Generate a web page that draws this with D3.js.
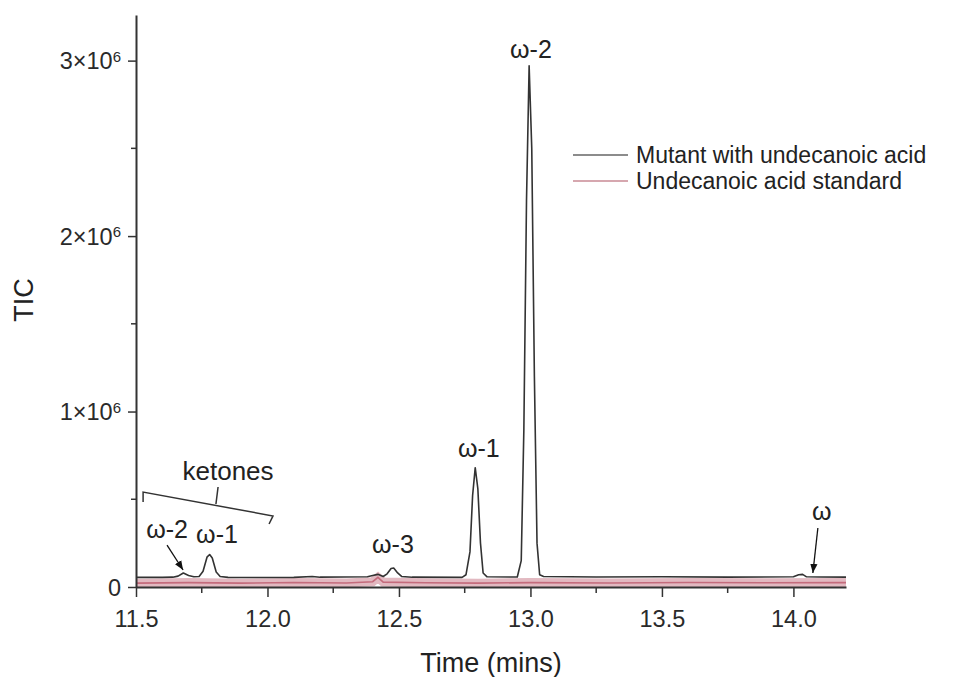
<!DOCTYPE html>
<html>

<head>
    <meta charset="utf-8">
    <style>
        body {
            margin: 0;
            background: #fff;
        }

        svg {
            font-family: "Liberation Sans", Arial, sans-serif;
        }

        .axis .domain {
            stroke: #333;
            stroke-width: 2;
        }

        .axis .tick line {
            stroke: #333;
            stroke-width: 1.5;
        }

        .axis .tick text {
            font-size: 23.5px;
            fill: #2a2a2a;
        }
    </style>
</head>

<body>
    <svg width="955" height="677"></svg>
</body>

<script src="https://d3js.org/d3.v7.min.js"></script>

<script>
    // retention time (mins) and TIC (thousands)
    let mutantTime = [11.50, 11.60, 11.64, 11.66, 11.68, 11.70, 11.72, 11.74, 11.755, 11.77, 11.78, 11.79, 11.805, 11.82, 11.85,
        12.00, 12.10, 12.17, 12.20, 12.38, 12.40, 12.42, 12.44, 12.455, 12.47, 12.48, 12.495, 12.51, 12.55,
        12.74, 12.755, 12.77, 12.78, 12.79, 12.80, 12.81, 12.82, 12.835,
        12.95, 12.965, 12.975, 12.985, 12.995, 13.005, 13.015, 13.025, 13.035, 13.05,
        13.25, 13.50, 13.75, 14.00, 14.02, 14.035, 14.05, 14.10, 14.20];
    let mutantTIC = [55, 55, 56, 62, 80, 66, 58, 60, 90, 170, 185, 165, 85, 60, 55,
        54, 55, 60, 56, 58, 65, 72, 60, 75, 105, 108, 80, 60, 56,
        55, 70, 200, 520, 680, 560, 250, 80, 58,
        57, 150, 900, 2200, 2970, 2500, 1200, 250, 70, 60,
        57, 58, 56, 58, 70, 72, 58, 57, 56];

    let standardTime = [11.50, 11.70, 11.90, 12.10, 12.30, 12.40, 12.42, 12.44, 12.60, 12.80, 13.00, 13.30, 13.60, 13.90, 14.20];
    let standardTIC = [22, 25, 22, 26, 23, 30, 55, 28, 24, 22, 25, 23, 26, 24, 25];

    let xTicks = [11.5, 12.0, 12.5, 13.0, 13.5, 14.0];
    let xMinorTicks = [11.75, 12.25, 12.75, 13.25, 13.75];
    let yTicks = [0, 1000, 2000, 3000];
    let yMinorTicks = [500, 1500, 2500];

    let seriesNames = ["Mutant with undecanoic acid", "Undecanoic acid standard"];

    // peak labels: text, time, TIC (thousands)
    let peakText = ["ω-2", "ω-1", "ω-3", "ω-2", "ω-1", "ω"];
    let peakTime = [13.002, 12.804, 12.477, 11.618, 11.808, 14.108];
    let peakTIC = [3014, 741, 194, 279, 251, 382];

    let mutant = mutantTime.map((t, i) => ({ t: t, v: mutantTIC[i] }));
    let standard = standardTime.map((t, i) => ({ t: t, v: standardTIC[i] }));

    let width = 955;
    let height = 677;
    let margin = { top: 15, right: 109, bottom: 90, left: 136 };

    let svg = d3.select("svg");

    let x = d3.scaleLinear()
        .domain([11.5, 14.2])
        .range([margin.left, width - margin.right]);

    let y = d3.scaleLinear()
        .domain([0, 3260])
        .range([height - margin.bottom, margin.top]);

    let line = d3.line()
        .x(d => x(d.t))
        .y(d => y(d.v));

    // standard trace: pink band with a red core
    svg.append("path")
        .datum(standard)
        .attr("d", line)
        .attr("fill", "none")
        .attr("stroke", "#e2b9c1")
        .attr("stroke-width", 9);

    svg.append("path")
        .datum(standard)
        .attr("d", line)
        .attr("fill", "none")
        .attr("stroke", "#c46b7c")
        .attr("stroke-width", 1.6);

    svg.append("path")
        .datum(mutant)
        .attr("d", line)
        .attr("fill", "none")
        .attr("stroke", "#333")
        .attr("stroke-width", 1.6)
        .attr("stroke-linejoin", "round");

    // axes
    let xAxis = svg.append("g")
        .attr("class", "x axis")
        .attr("transform", `translate(0,${y(0)})`)
        .call(d3.axisBottom(x).tickValues(xTicks).tickFormat(d3.format(".1f")).tickSize(10).tickSizeOuter(0).tickPadding(13));

    xAxis.selectAll(".minor")
        .data(xMinorTicks)
        .join("line")
        .attr("class", "minor")
        .attr("x1", d => x(d)).attr("x2", d => x(d))
        .attr("y1", 0).attr("y2", 6)
        .attr("stroke", "#333").attr("stroke-width", 1.5);

    let yAxis = svg.append("g")
        .attr("class", "y axis")
        .attr("transform", `translate(${margin.left},0)`)
        .call(d3.axisLeft(y).tickValues(yTicks).tickSize(8).tickSizeOuter(0).tickPadding(7).tickFormat(""));

    yAxis.selectAll(".minor")
        .data(yMinorTicks)
        .join("line")
        .attr("class", "minor")
        .attr("x1", -5).attr("x2", 0)
        .attr("y1", d => y(d)).attr("y2", d => y(d))
        .attr("stroke", "#333").attr("stroke-width", 1.5);

    // y tick labels as n×10^6
    yAxis.selectAll(".tick text").each(function (d) {
        let t = d3.select(this).attr("dy", "0.35em");
        if (d === 0) {
            t.text("0");
        } else {
            t.text(`${d / 1000}×10`);
            t.append("tspan").attr("dy", "-0.5em").attr("font-size", "15px").text("6");
        }
    });

    // axis titles
    svg.append("text")
        .attr("x", (x(11.5) + x(14.2)) / 2)
        .attr("y", 672)
        .attr("text-anchor", "middle")
        .attr("font-size", 27)
        .attr("fill", "#222")
        .text("Time (mins)");

    svg.append("text")
        .attr("transform", `translate(33,300) rotate(-90)`)
        .attr("text-anchor", "middle")
        .attr("font-size", 27)
        .attr("fill", "#222")
        .text("TIC");

    // legend
    let legendColors = ["#666", "#c98a95"];
    let legend = svg.append("g").attr("transform", "translate(573,155)");
    seriesNames.forEach((name, i) => {
        legend.append("line")
            .attr("x1", 0).attr("x2", 55)
            .attr("y1", i * 26).attr("y2", i * 26)
            .attr("stroke", legendColors[i]).attr("stroke-width", 1.6);
        legend.append("text")
            .attr("x", 63).attr("y", i * 26 + 8)
            .attr("font-size", 23)
            .attr("fill", "#222")
            .text(name);
    });

    // peak labels
    svg.append("g")
        .selectAll("text")
        .data(peakText)
        .join("text")
        .attr("x", (d, i) => x(peakTime[i]))
        .attr("y", (d, i) => y(peakTIC[i]))
        .attr("text-anchor", "middle")
        .attr("font-size", 25)
        .attr("fill", "#222")
        .text(d => d);

    // arrows to the small peaks
    svg.append("defs").append("marker")
        .attr("id", "arrow")
        .attr("viewBox", "0 0 10 10")
        .attr("refX", 10).attr("refY", 5)
        .attr("markerWidth", 7).attr("markerHeight", 7)
        .attr("orient", "auto")
        .append("path")
        .attr("d", "M0,1 L10,5 L0,9 Z")
        .attr("fill", "#111");

    let arrowFrom = [[11.618, 239], [14.093, 336]];
    let arrowTo = [[11.679, 97], [14.074, 80]];
    arrowFrom.forEach((a, i) => {
        svg.append("line")
            .attr("x1", x(a[0])).attr("y1", y(a[1]))
            .attr("x2", x(arrowTo[i][0])).attr("y2", y(arrowTo[i][1]))
            .attr("stroke", "#111").attr("stroke-width", 1.3)
            .attr("marker-end", "url(#arrow)");
    });

    // ketones bracket
    let bracket = [[11.527, 484], [11.527, 541], [12.021, 405], [12.006, 359]];
    svg.append("path")
        .attr("d", d3.line().x(d => x(d[0])).y(d => y(d[1]))(bracket))
        .attr("fill", "none")
        .attr("stroke", "#333")
        .attr("stroke-width", 1.5);

    svg.append("line")
        .attr("x1", x(11.804)).attr("y1", y(473))
        .attr("x2", x(11.812)).attr("y2", y(570))
        .attr("stroke", "#333").attr("stroke-width", 1.5);

    svg.append("text")
        .attr("x", x(11.85))
        .attr("y", y(610))
        .attr("text-anchor", "middle")
        .attr("font-size", 26)
        .attr("fill", "#222")
        .text("ketones");
</script>

</html>
